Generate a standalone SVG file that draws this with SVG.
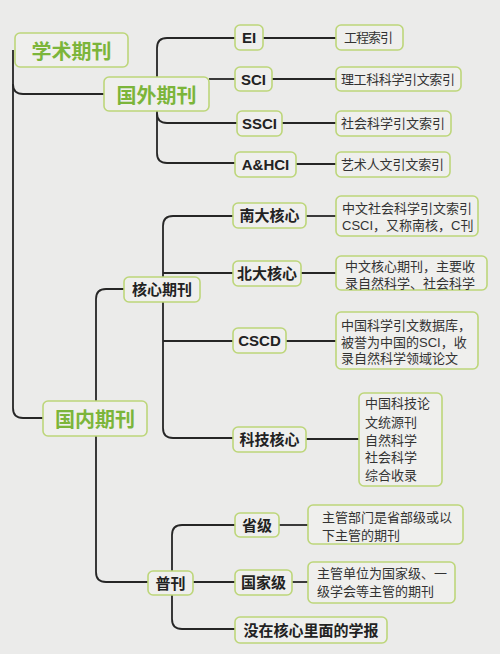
<svg xmlns="http://www.w3.org/2000/svg" width="500" height="654" viewBox="0 0 500 654">
<style>
.bg{fill:#ebebea}
.box{fill:#efefed;stroke:#bdd67a;stroke-width:1.6}
.t1{font-family:"Noto Sans CJK SC","Liberation Sans",sans-serif;font-weight:bold;font-size:20px;fill:#7cb53a;text-anchor:middle;dominant-baseline:central}
.t2{font-family:"Liberation Sans","Noto Sans CJK SC",sans-serif;font-weight:bold;font-size:15px;fill:#222;text-anchor:middle;dominant-baseline:central}
.t3{font-family:"Liberation Sans","Noto Sans CJK SC",sans-serif;font-size:13px;fill:#333}
.ln{fill:none;stroke:#262626;stroke-width:1.8}
</style>
<rect class="bg" x="0" y="0" width="500" height="654"/>
<g id="connectors">
<path class="ln" d="M13,50 V408 Q13,418 23,418 H43"/>
<path class="ln" d="M13,84 Q13,94 23,94 H104"/>
<path class="ln" d="M235,38 H167 Q157,38 157,48 V77"/>
<path class="ln" d="M209,79 H235"/>
<path class="ln" d="M157,111 V153 Q157,163 167,163 H235"/>
<path class="ln" d="M157,113 Q157,123 167,123 H237"/>
<path class="ln" d="M263,38 H336"/>
<path class="ln" d="M272,79 H336"/>
<path class="ln" d="M282,123 H336"/>
<path class="ln" d="M296,164 H336"/>
<path class="ln" d="M96,401 V299 Q96,289 106,289 H124"/>
<path class="ln" d="M96,436 V572 Q96,582 106,582 H148"/>
<path class="ln" d="M233,216 H173 Q163,216 163,226 V277"/>
<path class="ln" d="M163,302 V428 Q163,438 173,438 H233"/>
<path class="ln" d="M163,273 H233"/>
<path class="ln" d="M163,341 H233"/>
<path class="ln" d="M306,216 H336"/>
<path class="ln" d="M301,273 H336"/>
<path class="ln" d="M286,341 H336"/>
<path class="ln" d="M306,439 H359"/>
<path class="ln" d="M235,525 H182 Q172,525 172,535 V571"/>
<path class="ln" d="M172,595 V619 Q172,629 182,629 H235"/>
<path class="ln" d="M193,582 H235"/>
<path class="ln" d="M279,525 H308"/>
<path class="ln" d="M292,582 H308"/>
</g>
<g id="root"><rect class="box" x="15" y="33" width="113" height="34" rx="5"/><text class="t1" x="71.5" y="50">学术期刊</text></g>
<g id="foreign"><rect class="box" x="104" y="77" width="105" height="34" rx="5"/><text class="t1" x="156.5" y="94">国外期刊</text></g>
<g id="domestic"><rect class="box" x="43" y="401" width="104" height="35" rx="5"/><text class="t1" x="95" y="418.5">国内期刊</text></g>

<g id="ei"><rect class="box" x="235" y="25" width="28" height="25" rx="5"/><text class="t2" x="249" y="37.5">EI</text></g>
<g id="sci"><rect class="box" x="235" y="67" width="37" height="24" rx="5"/><text class="t2" x="253.5" y="79">SCI</text></g>
<g id="ssci"><rect class="box" x="237" y="111" width="45" height="25" rx="5"/><text class="t2" x="259.5" y="123.5">SSCI</text></g>
<g id="ahci"><rect class="box" x="235" y="152" width="61" height="25" rx="5"/><text class="t2" x="265.5" y="164.5">A&amp;HCI</text></g>

<g id="ei-d"><rect class="box" x="336" y="25" width="67" height="25" rx="5"/><text class="t3" x="344" y="42" textLength="49">工程索引</text></g>
<g id="sci-d"><rect class="box" x="336" y="67" width="125" height="24" rx="5"/><text class="t3" x="341" y="83.5" textLength="114">理工科科学引文索引</text></g>
<g id="ssci-d"><rect class="box" x="336" y="111" width="115" height="25" rx="5"/><text class="t3" x="341" y="128" textLength="104">社会科学引文索引</text></g>
<g id="ahci-d"><rect class="box" x="336" y="152" width="114" height="25" rx="5"/><text class="t3" x="341" y="169" textLength="103">艺术人文引文索引</text></g>

<g id="core"><rect class="box" x="124" y="277" width="76" height="25" rx="5"/><text class="t2" x="162" y="289.5">核心期刊</text></g>
<g id="nanda"><rect class="box" x="233" y="203" width="73" height="25" rx="5"/><text class="t2" x="269.5" y="215.5">南大核心</text></g>
<g id="beida"><rect class="box" x="233" y="261" width="68" height="25" rx="5"/><text class="t2" x="267" y="273.5">北大核心</text></g>
<g id="cscd"><rect class="box" x="233" y="328" width="53" height="25" rx="5"/><text class="t2" x="259.5" y="340.5">CSCD</text></g>
<g id="keji"><rect class="box" x="233" y="427" width="73" height="25" rx="5"/><text class="t2" x="269.5" y="439.5">科技核心</text></g>

<g id="nanda-d"><rect class="box" x="336" y="196" width="142" height="40" rx="5"/><text class="t3" x="342" y="213">中文社会科学引文索引</text><text class="t3" x="342" y="230">CSCI，又称南核，C刊</text></g>
<g id="beida-d"><rect class="box" x="336" y="256" width="151" height="34" rx="5"/><text class="t3" x="345" y="271">中文核心期刊，主要收</text><text class="t3" x="345" y="288">录自然科学、社会科学</text></g>
<g id="cscd-d"><rect class="box" x="336" y="312" width="142" height="57" rx="5"/><text class="t3" x="341" y="330">中国科学引文数据库，</text><text class="t3" x="341" y="347">被誉为中国的SCI，收</text><text class="t3" x="341" y="363">录自然科学领域论文</text></g>
<g id="keji-d"><rect class="box" x="359" y="393" width="83" height="93" rx="5"/><text class="t3" x="365" y="408">中国科技论</text><text class="t3" x="365" y="427">文统源刊</text><text class="t3" x="365" y="445">自然科学</text><text class="t3" x="365" y="462">社会科学</text><text class="t3" x="365" y="480">综合收录</text></g>

<g id="pukan"><rect class="box" x="148" y="571" width="45" height="24" rx="5"/><text class="t2" x="170.5" y="583">普刊</text></g>
<g id="shengji"><rect class="box" x="235" y="513" width="44" height="24" rx="5"/><text class="t2" x="257" y="525">省级</text></g>
<g id="guojia"><rect class="box" x="235" y="570" width="57" height="25" rx="5"/><text class="t2" x="263.5" y="582.5">国家级</text></g>
<g id="xuebao"><rect class="box" x="235" y="617" width="152" height="26" rx="5"/><text class="t2" x="311" y="630">没在核心里面的学报</text></g>

<g id="shengji-d"><rect class="box" x="308" y="505" width="155" height="39" rx="5"/><text class="t3" x="322" y="522">主管部门是省部级或以</text><text class="t3" x="322" y="540">下主管的期刊</text></g>
<g id="guojia-d"><rect class="box" x="308" y="562" width="147" height="41" rx="5"/><text class="t3" x="317" y="578">主管单位为国家级、一</text><text class="t3" x="317" y="596">级学会等主管的期刊</text></g>
</svg>
